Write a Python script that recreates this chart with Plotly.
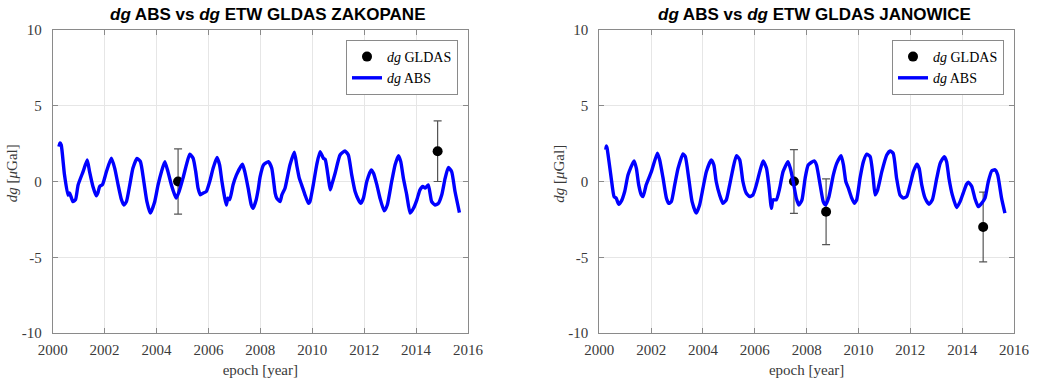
import plotly.graph_objects as go

# ---------------- data ----------------
years_ticks = [2000, 2002, 2004, 2006, 2008, 2010, 2012, 2014, 2016]
year_labels = [str(y) for y in years_ticks]
y_ticks = [-10, -5, 0, 5, 10]
y_labels = ["-10", "-5", "0", "5", "10"]

titles = ["<i>dg</i> ABS vs <i>dg</i> ETW GLDAS ZAKOPANE",
          "<i>dg</i> ABS vs <i>dg</i> ETW GLDAS JANOWICE"]

# dg ABS (epoch, value)
abs_zakopane = [
    (2000.24, 2.3), (2000.28, 2.55), (2000.33, 2.4), (2000.45, 0.5), (2000.59, -0.9),
    (2000.65, -0.75), (2000.78, -1.33), (2000.88, -1.2), (2000.98, -0.22), (2001.17, 0.65),
    (2001.33, 1.42), (2001.42, 0.65), (2001.55, -0.33), (2001.68, -0.95), (2001.74, -0.75),
    (2001.81, -0.33), (2001.92, -0.2), (2002.07, 0.65), (2002.26, 1.53), (2002.39, 0.87),
    (2002.52, -0.22), (2002.65, -1.21), (2002.74, -1.55), (2002.84, -1.33), (2002.97, -0.22),
    (2003.09, 0.87), (2003.25, 1.53), (2003.38, 1.31), (2003.51, 0.0), (2003.63, -1.33),
    (2003.76, -2.09), (2003.93, -1.33), (2004.06, -0.22), (2004.19, 0.65), (2004.32, 1.31),
    (2004.44, 0.65), (2004.57, -0.22), (2004.70, -0.88), (2004.76, -1.1), (2004.87, -0.66),
    (2005.02, 0.22), (2005.15, 1.09), (2005.28, 1.8), (2005.41, 1.53), (2005.51, 0.65),
    (2005.60, -0.44), (2005.69, -0.88), (2005.79, -0.77), (2005.92, -0.66), (2006.05, 0.0),
    (2006.18, 0.87), (2006.33, 1.58), (2006.43, 1.09), (2006.52, 0.0), (2006.63, -1.1),
    (2006.69, -1.55), (2006.75, -1.1), (2006.82, -1.2), (2006.95, -0.22), (2007.08, 0.44),
    (2007.31, 1.14), (2007.40, 0.65), (2007.53, -0.44), (2007.65, -1.55), (2007.72, -1.77),
    (2007.84, -1.2), (2007.92, -0.5), (2007.99, 0.3), (2008.12, 1.09), (2008.31, 1.31),
    (2008.44, 0.87), (2008.57, -0.77), (2008.63, -1.1), (2008.76, -1.33), (2008.83, -0.88),
    (2008.95, -0.44), (2009.14, 1.09), (2009.31, 1.93), (2009.40, 1.09), (2009.50, 0.22),
    (2009.59, -0.22), (2009.72, -0.88), (2009.85, -1.44), (2009.91, -1.33), (2010.04, -0.22),
    (2010.17, 1.09), (2010.30, 1.97), (2010.43, 1.53), (2010.50, 1.45), (2010.62, 0.22),
    (2010.69, -0.55), (2010.75, -0.22), (2010.88, 0.54), (2011.07, 1.75), (2011.26, 2.02),
    (2011.39, 1.75), (2011.52, 0.44), (2011.65, -0.66), (2011.78, -1.21), (2011.87, -1.44),
    (2011.97, -1.1), (2012.10, 0.0), (2012.27, 0.77), (2012.36, 0.55), (2012.49, -0.22),
    (2012.61, -1.1), (2012.77, -1.94), (2012.89, -1.55), (2013.06, 0.0), (2013.19, 1.09),
    (2013.32, 1.71), (2013.41, 1.31), (2013.51, 0.22), (2013.64, -0.88), (2013.77, -2.09),
    (2013.90, -1.77), (2014.03, -1.21), (2014.15, -0.55), (2014.26, -0.33), (2014.35, -0.44),
    (2014.47, -0.22), (2014.60, -1.33), (2014.73, -1.55), (2014.86, -1.44), (2014.99, -0.88),
    (2015.12, 0.22), (2015.24, 0.92), (2015.37, 0.65), (2015.50, -0.66), (2015.67, -2.05),
]

abs_janowice = [
    (2000.25, 2.1), (2000.27, 2.35), (2000.30, 2.2), (2000.46, 0.22), (2000.57, -1.0),
    (2000.65, -1.1), (2000.75, -1.5), (2000.85, -1.3), (2000.98, -0.66), (2001.11, 0.44),
    (2001.34, 1.36), (2001.43, 0.87), (2001.52, -0.22), (2001.62, -0.88), (2001.69, -0.99),
    (2001.81, -0.22), (2002.01, 0.65), (2002.24, 1.87), (2002.33, 1.42), (2002.46, 0.22),
    (2002.59, -1.1), (2002.68, -1.44), (2002.78, -1.33), (2002.91, -0.22), (2003.04, 0.87),
    (2003.23, 1.82), (2003.32, 1.64), (2003.45, 0.22), (2003.58, -1.33), (2003.74, -2.09),
    (2003.87, -1.55), (2004.00, -0.44), (2004.13, 0.65), (2004.32, 1.42), (2004.42, 1.09),
    (2004.51, 0.0), (2004.64, -0.88), (2004.77, -1.44), (2004.90, -1.21), (2005.03, -0.22),
    (2005.16, 0.87), (2005.29, 1.71), (2005.42, 1.42), (2005.54, 0.0), (2005.67, -0.77),
    (2005.80, -1.0), (2005.93, -0.88), (2006.06, -0.22), (2006.19, 0.65), (2006.32, 1.36),
    (2006.45, 0.87), (2006.54, -0.22), (2006.64, -1.77), (2006.70, -1.21), (2006.83, -1.21),
    (2006.96, -0.44), (2007.09, 0.65), (2007.28, 1.31), (2007.37, 0.87), (2007.48, 0.0),
    (2007.60, -1.1), (2007.70, -1.55), (2007.82, -1.21), (2007.94, 0.2), (2008.06, 1.09),
    (2008.29, 1.36), (2008.38, 1.09), (2008.52, -0.22), (2008.64, -1.33), (2008.73, -1.55),
    (2008.86, -1.0), (2009.03, 0.44), (2009.16, 1.2), (2009.33, 1.71), (2009.42, 1.09),
    (2009.51, 0.0), (2009.61, -0.44), (2009.74, -1.1), (2009.84, -1.44), (2009.93, -1.21),
    (2010.06, 0.22), (2010.19, 1.31), (2010.32, 1.8), (2010.45, 1.64), (2010.57, 0.22),
    (2010.64, -0.88), (2010.74, -0.55), (2010.90, 0.65), (2011.09, 1.75), (2011.22, 2.02),
    (2011.34, 1.86), (2011.47, 0.22), (2011.60, -0.88), (2011.73, -1.1), (2011.86, -0.99),
    (2011.99, -0.22), (2012.12, 0.65), (2012.25, 1.14), (2012.34, 0.87), (2012.44, -0.22),
    (2012.57, -1.1), (2012.72, -1.5), (2012.85, -1.21), (2013.02, 0.22), (2013.15, 1.2),
    (2013.31, 1.64), (2013.40, 1.31), (2013.49, 0.22), (2013.62, -0.88), (2013.79, -1.72),
    (2013.92, -1.33), (2014.04, -0.77), (2014.17, -0.18), (2014.24, -0.04), (2014.37, -0.33),
    (2014.49, -1.1), (2014.62, -1.66), (2014.75, -1.44), (2014.88, -1.1), (2015.01, 0.0),
    (2015.14, 0.7), (2015.27, 0.77), (2015.37, 0.44), (2015.52, -1.1), (2015.65, -2.09),
]

# dg GLDAS points with error bars
gldas_zak_t = [2004.83, 2014.83]
gldas_zak_v = [0.0, 2.0]
gldas_zak_err = [2.15, 2.0]

gldas_jan_t = [2007.51, 2008.75, 2014.81]
gldas_jan_v = [0.0, -2.0, -3.0]
gldas_jan_err = [2.1, 2.17, 2.3]

# ---------------- figure ----------------
W, H = 1038, 378
BLUE = "rgb(0,0,255)"
GRAY_TXT = "#3a3a3a"
SERIF = "Liberation Serif, Times New Roman, serif"
SANS = "Liberation Sans, Arial, sans-serif"

fig = go.Figure()

panels = [
    (abs_zakopane, gldas_zak_t, gldas_zak_v, gldas_zak_err, "x", "y", "legend"),
    (abs_janowice, gldas_jan_t, gldas_jan_v, gldas_jan_err, "x2", "y2", "legend2"),
]
for data, gt, gv, ge, xa, ya, lg in panels:
    fig.add_trace(go.Scatter(
        x=gt, y=gv, mode="markers", name="<i>dg</i> GLDAS",
        marker=dict(color="black", size=10),
        error_y=dict(type="data", array=ge, visible=True, color="#555555",
                     thickness=1.2, width=4),
        xaxis=xa, yaxis=ya, legend=lg,
    ))
    fig.add_trace(go.Scatter(
        x=[p[0] for p in data], y=[p[1] for p in data], mode="lines",
        name="<i>dg</i> ABS", line=dict(color=BLUE, width=3.4, shape="spline", smoothing=0.5),
        xaxis=xa, yaxis=ya, legend=lg,
    ))

x1 = [52.7 / W, 468 / W]
x2 = [599.3 / W, 1014 / W]
yd = [1 - 333 / H, 1 - 30 / H]

axis_common = dict(
    showline=True, mirror="ticks", linecolor="#8a8a8a", linewidth=1,
    ticks="inside", ticklen=5, tickcolor="#8a8a8a",
    showgrid=True, gridcolor="#e6e6e6", gridwidth=1, zeroline=False,
    tickfont=dict(family=SERIF, size=15, color=GRAY_TXT),
    automargin=False,
)

for name, dom in (("xaxis", x1), ("xaxis2", x2)):
    fig.update_layout({name: dict(
        axis_common, domain=dom, range=[2000, 2016],
        tickvals=years_ticks, ticktext=year_labels, ticklabelstandoff=3,
        anchor="y" if name == "xaxis" else "y2",
        title=dict(text="epoch [year]", font=dict(family=SERIF, size=15, color=GRAY_TXT),
                   standoff=9),
    )})
for name in ("yaxis", "yaxis2"):
    fig.update_layout({name: dict(
        axis_common, domain=yd, range=[-10, 10],
        tickvals=y_ticks, ticktext=y_labels, ticklabelstandoff=7,
        anchor="x" if name == "yaxis" else "x2",
    )})

annotations = []
for i, dom in enumerate((x1, x2)):
    cx = (dom[0] + dom[1]) / 2 + 7.5 / W
    annotations.append(dict(
        text="<b>" + titles[i] + "</b>", x=cx, y=1 - 15 / H, xref="paper", yref="paper",
        xanchor="center", yanchor="middle", showarrow=False,
        font=dict(family=SANS, size=17, color="black"),
    ))
    annotations.append(dict(
        text="<i>dg</i> [<i>μ</i>Gal]", x=dom[0] - 40 / W, y=(yd[0] + yd[1]) / 2 + 8 / H,
        xref="paper", yref="paper", xanchor="center", yanchor="middle", textangle=-90,
        showarrow=False, font=dict(family=SERIF, size=15, color=GRAY_TXT),
    ))

legend_common = dict(
    bgcolor="white", bordercolor="#8a8a8a", borderwidth=1,
    font=dict(family=SERIF, size=14, color="black"),
    xanchor="right", yanchor="top", itemwidth=30, tracegroupgap=0,
)
fig.update_layout(
    width=W, height=H,
    margin=dict(l=0, r=0, t=0, b=0, autoexpand=False),
    paper_bgcolor="white", plot_bgcolor="white",
    annotations=annotations,
    legend=dict(legend_common, x=458 / W, y=1 - 40 / H),
    legend2=dict(legend_common, x=1004 / W, y=1 - 40 / H),
    showlegend=True,
)

fig.write_html("out.html")
